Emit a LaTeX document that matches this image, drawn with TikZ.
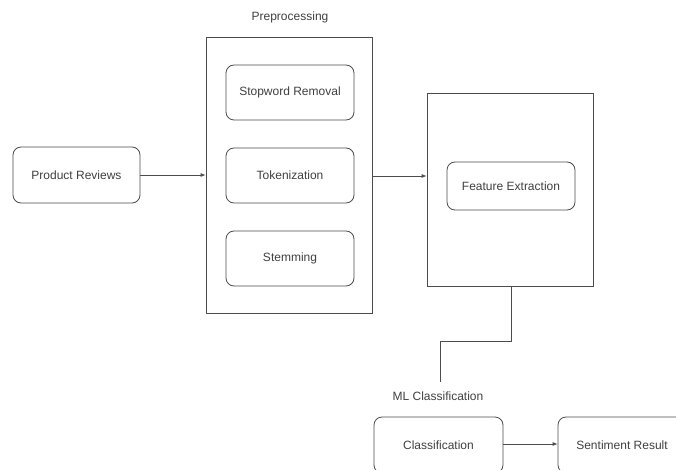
\documentclass[tikz,border=0pt]{standalone}
\usepackage{fontspec}
\setmainfont{Liberation Sans}
\usetikzlibrary{arrows.meta}
\definecolor{ln}{gray}{0.3}
\definecolor{tx}{gray}{0.25}
\begin{document}
\begin{tikzpicture}[x=1pt,y=-1pt,
  rbox/.style={draw=ln,line width=0.8pt,rounded corners=8pt,text=tx,font=\fontsize{12}{14}\selectfont},
  sbox/.style={draw=ln,line width=0.8pt},
  lbl/.style={text=tx,font=\fontsize{12}{14}\selectfont},
  conn/.style={draw=ln,line width=0.8pt},
  arr/.style={conn,-{Latex[length=5pt,width=4pt]}}]
\clip (0,0) rectangle (676,470);
\fill[white] (0,0) rectangle (676,470);
% nodes
\node[rbox,minimum width=127pt,minimum height=56pt] (pr) at (76.5,175) {Product Reviews};
\node[sbox,minimum width=166pt,minimum height=276pt] (pre) at (289,175) {};
\node[lbl] (prel) at (290,17) {Preprocessing};
\node[rbox,minimum width=128pt,minimum height=55pt] (sw) at (290,92.5) {Stopword Removal};
\node[rbox,minimum width=128pt,minimum height=55pt] (tok) at (290,175.5) {Tokenization};
\node[rbox,minimum width=128pt,minimum height=55pt] (stem) at (290,258.5) {Stemming};
\node[sbox,minimum width=166pt,minimum height=193pt] (fe) at (510,189.5) {};
\node[rbox,minimum width=128pt,minimum height=48pt] (fex) at (511,186) {Feature Extraction};
\node[lbl] (mll) at (438,396) {ML Classification};
\node[rbox,minimum width=129pt,minimum height=56pt] (cls) at (438.5,445) {Classification};
\node[rbox,minimum width=128pt,minimum height=56pt] (sent) at (622,445) {Sentiment Result};
\coordinate (cend) at (440,382);
% connectors
\draw[arr] (pr.east |- 0,175) -- (pre.west |- 0,175);
\draw[arr] (pre.east |- 0,176) -- (fe.west |- 0,176);
\draw[conn] (fe.south -| 511,0) -- (511,341) -- (440,341) -- (cend);
\draw[arr] (cls.east |- 0,444) -- (sent.west |- 0,444);
\end{tikzpicture}
\end{document}
